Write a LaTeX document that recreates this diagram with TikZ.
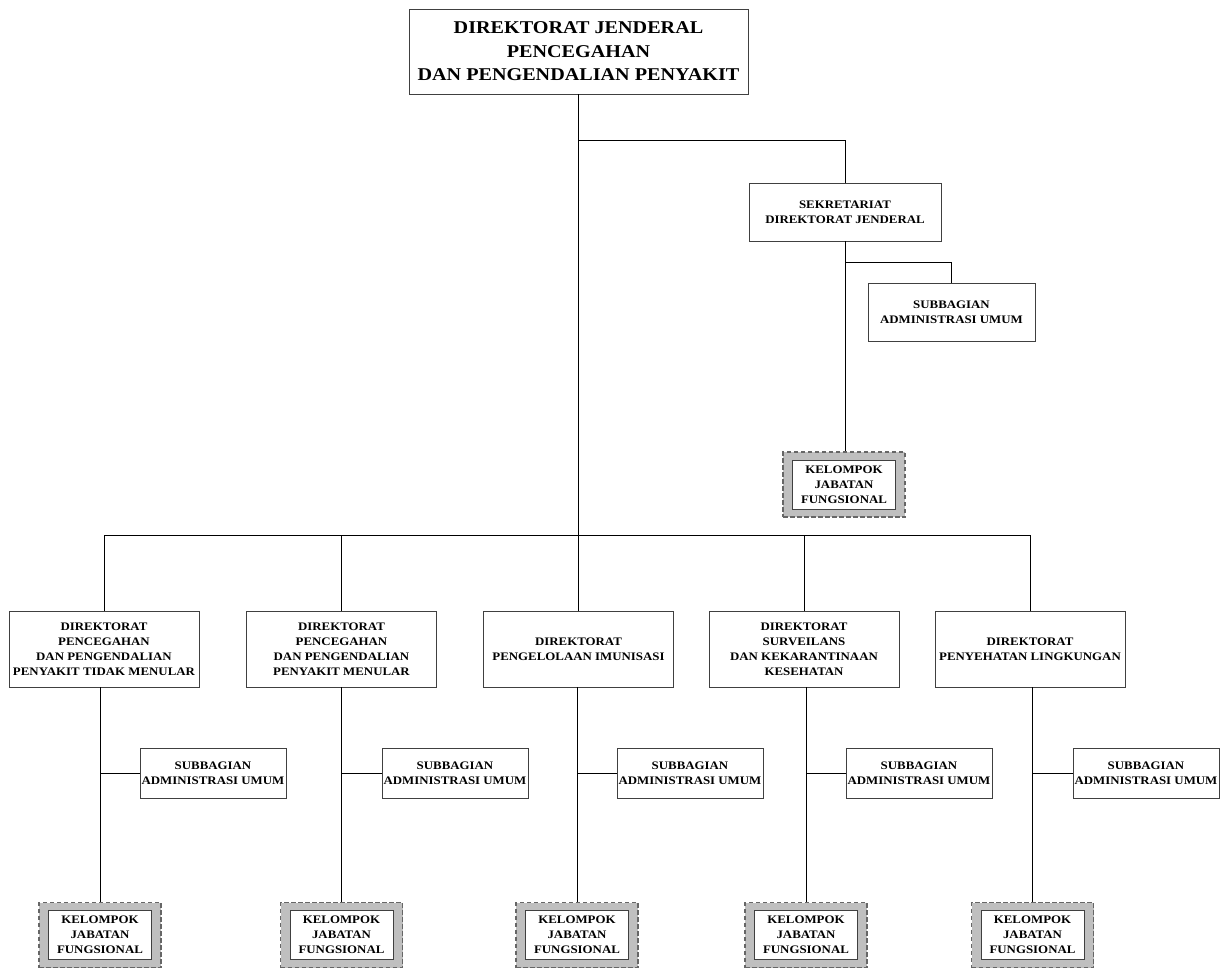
\documentclass[tikz,border=0pt]{standalone}
\usepackage{fontspec}
\setmainfont{Liberation Serif}[FakeStretch=1.12]
\begin{document}
\begin{tikzpicture}[x=1pt,y=-1pt,
  box/.style={draw=black!75, line width=0.9pt, fill=white, align=center, inner sep=0pt, font=\fontsize{11.5}{15}\selectfont\bfseries},
  bigbox/.style={box, font=\fontsize{18}{23.5}\selectfont\bfseries},
  dirbox/.style={box, minimum width=190, minimum height=76},
  subbox/.style={box, minimum width=146, minimum height=50},
  kelout/.style={draw=black!60, dashed, dash pattern=on 4.5pt off 2.5pt, line width=1.4pt, fill=black!25, minimum width=122, minimum height=65, inner sep=0pt},
  kelin/.style={box, minimum width=103, minimum height=49},
  conn/.style={draw=black, line width=0.9pt}]
\useasboundingbox (0,0) rectangle (1227,969);

% top
\node[bigbox, minimum width=339, minimum height=85] (top) at (578.5,51.5) {DIREKTORAT JENDERAL\\PENCEGAHAN\\DAN PENGENDALIAN PENYAKIT};
\node[box, minimum width=192, minimum height=58] (sek) at (845,212) {SEKRETARIAT\\DIREKTORAT JENDERAL};
\node[box, minimum width=167, minimum height=58] (subs) at (951.5,312) {SUBBAGIAN\\ADMINISTRASI UMUM};
\node[kelout] (kels) at (844,484.5) {};
\node[kelin] (kelsi) at (kels.center) {KELOMPOK\\JABATAN\\FUNGSIONAL};

\coordinate (j1) at (578.5,140);
\coordinate (j2) at (578.5,535);
\coordinate (j3) at (845,262);

% directorates
\node[dirbox] (d1) at (104,649) {DIREKTORAT\\PENCEGAHAN\\DAN PENGENDALIAN\\PENYAKIT TIDAK MENULAR};
\node[dirbox] (d2) at (341.5,649) {DIREKTORAT\\PENCEGAHAN\\DAN PENGENDALIAN\\PENYAKIT MENULAR};
\node[dirbox] (d3) at (578.5,649) {DIREKTORAT\\PENGELOLAAN IMUNISASI};
\node[dirbox] (d4) at (804,649) {DIREKTORAT\\SURVEILANS\\DAN KEKARANTINAAN\\KESEHATAN};
\node[dirbox] (d5) at (1030,649) {DIREKTORAT\\PENYEHATAN LINGKUNGAN};

% subbagian
\node[subbox] (s1) at (213,773) {SUBBAGIAN\\ADMINISTRASI UMUM};
\node[subbox] (s2) at (455,773) {SUBBAGIAN\\ADMINISTRASI UMUM};
\node[subbox] (s3) at (690,773) {SUBBAGIAN\\ADMINISTRASI UMUM};
\node[subbox] (s4) at (919,773) {SUBBAGIAN\\ADMINISTRASI UMUM};
\node[subbox] (s5) at (1146,773) {SUBBAGIAN\\ADMINISTRASI UMUM};

% kelompok
\foreach \i/\x in {1/100, 2/341.5, 3/577, 4/806, 5/1032.5} {
  \node[kelout] (k\i) at (\x,935) {};
  \node[kelin] (k\i i) at (k\i.center) {KELOMPOK\\JABATAN\\FUNGSIONAL};
}

% connectors
\draw[conn] (top.south) -- (j2);
\draw[conn] (j1) -| (sek.north);
\draw[conn] (sek.south) -- (sek.south|-kels.north);
\draw[conn] (j3) -| (subs.north);
\draw[conn] (d1.north) -- (d1.north|-j2) -- (d5.north|-j2) -- (d5.north);
\draw[conn] (d2.north|-j2) -- (d2.north);
\draw[conn] (d3.north|-j2) -- (d3.north);
\draw[conn] (d4.north|-j2) -- (d4.north);
\foreach \i in {1,...,5} {
  \draw[conn] (k\i.north|-d\i.south) -- (k\i.north);
  \draw[conn] (k\i.north|-s\i.west) -- (s\i.west);
}
\end{tikzpicture}
\end{document}
